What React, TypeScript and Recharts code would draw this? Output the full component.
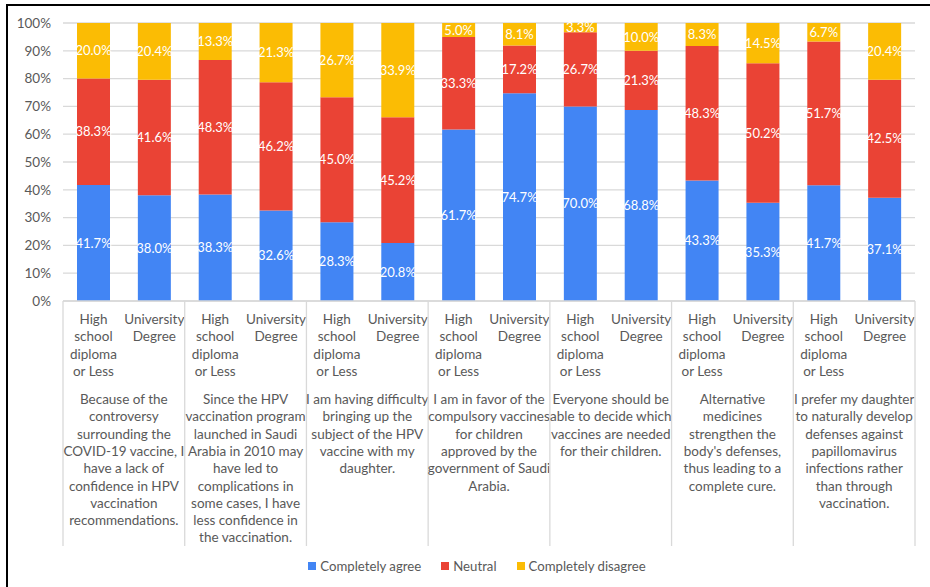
import React from "react";
import { BarChart, Bar, XAxis, YAxis, CartesianGrid, LabelList, Legend } from "recharts";

const statements: string[][] = [
  ["Because of the", "controversy", "surrounding the", "COVID-19 vaccine, I", "have a lack of", "confidence in HPV", "vaccination", "recommendations."],
  ["Since the HPV", "vaccination program", "launched in Saudi", "Arabia in 2010 may", "have led to", "complications in", "some cases, I have", "less confidence in", "the vaccination."],
  ["I am having difficulty", "bringing up the", "subject of the HPV", "vaccine with my", "daughter."],
  ["I am in favor of the", "compulsory vaccines", "for children", "approved by the", "government of Saudi", "Arabia."],
  ["Everyone should be", "able to decide which", "vaccines are needed", "for their children."],
  ["Alternative", "medicines", "strengthen the", "body's defenses,", "thus leading to a", "complete cure."],
  ["I prefer my daughter", "to naturally develop", "defenses against", "papillomavirus", "infections rather", "than through", "vaccination."],
];

const educationLevels: string[][] = [
  ["High", "school", "diploma", "or Less"],
  ["University", "Degree"],
];

const completelyAgree = [41.7, 38.0, 38.3, 32.6, 28.3, 20.8, 61.7, 74.7, 70.0, 68.8, 43.3, 35.3, 41.7, 37.1];
const neutral = [38.3, 41.6, 48.3, 46.2, 45.0, 45.2, 33.3, 17.2, 26.7, 21.3, 48.3, 50.2, 51.7, 42.5];
const completelyDisagree = [20.0, 20.4, 13.3, 21.3, 26.7, 33.9, 5.0, 8.1, 3.3, 10.0, 8.3, 14.5, 6.7, 20.4];

const yTicks = [0, 0.1, 0.2, 0.3, 0.4, 0.5, 0.6, 0.7, 0.8, 0.9, 1];
const yTickLabels = ["0%", "10%", "20%", "30%", "40%", "50%", "60%", "70%", "80%", "90%", "100%"];

const seriesNames = ["Completely agree", "Neutral", "Completely disagree"];
const seriesColors = ["#4285F4", "#EA4335", "#FBBC04"];

const chartData = completelyAgree.map((v, i) => ({
  id: `c${i}`,
  group: Math.floor(i / 2),
  edu: i % 2,
  agree: v,
  neutral: neutral[i],
  disagree: completelyDisagree[i],
}));

const FONT = "Lato, 'Open Sans', sans-serif";
const W = 930;
const H = 587;
const MARGIN = { top: 23, right: 15, bottom: 21, left: 0 };
const Y_AXIS_W = 63;
const X_AXIS_H = 245;
const PLOT_W = W - MARGIN.left - MARGIN.right - Y_AXIS_W;
const TEXT_COLOR = "#595959";
const GRID = "#d9d9d9";

const CategoryTick = (props: any) => {
  const { x, y, payload } = props;
  const i: number = payload.index;
  const row = chartData[i];
  const band = PLOT_W / chartData.length;
  const lh = 17.3;
  const eduLines = educationLevels[row.edu];
  const els: React.ReactNode[] = [];
  els.push(
    <text key="edu" x={x} y={y + 23} textAnchor="middle" fill={TEXT_COLOR} fontSize={13.5} fontFamily={FONT}>
      {eduLines.map((l, k) => (
        <tspan key={k} x={x} dy={k === 0 ? 0 : lh}>{l}</tspan>
      ))}
    </text>
  );
  if (row.edu === 0) {
    const gx = x + band / 2;
    const lines = statements[row.group];
    els.push(
      <line key="sep" x1={x - band / 2} x2={x - band / 2} y1={y} y2={y + X_AXIS_H} stroke={GRID} strokeWidth={1.3} />
    );
    els.push(
      <text key="st" x={gx} y={y + 103} textAnchor="middle" fill={TEXT_COLOR} fontSize={13.5} fontFamily={FONT}>
        {lines.map((l, k) => (
          <tspan key={k} x={gx} dy={k === 0 ? 0 : lh}>{l}</tspan>
        ))}
      </text>
    );
  }
  if (i === chartData.length - 1) {
    els.push(
      <line key="sepEnd" x1={x + band / 2} x2={x + band / 2} y1={y} y2={y + X_AXIS_H} stroke={GRID} strokeWidth={1.3} />
    );
  }
  return <g>{els}</g>;
};

const LegendContent = () => (
  <div
    style={{
      width: W,
      height: 20,
      display: "flex",
      justifyContent: "center",
      alignItems: "center",
      paddingLeft: 24,
      boxSizing: "border-box",
      fontFamily: FONT,
      fontSize: 13.2,
      color: TEXT_COLOR,
    }}
  >
    {seriesNames.map((n, k) => (
      <span key={n} style={{ display: "inline-flex", alignItems: "center", marginRight: k < 2 ? 20 : 0 }}>
        <span style={{ width: 8, height: 8, background: seriesColors[k], display: "inline-block", marginRight: 4 }} />
        {n}
      </span>
    ))}
  </div>
);

export default function App() {
  return (
    <div style={{ position: "absolute", left: 0, top: 0, width: W, height: H, overflow: "hidden", background: "#fff" }}>
      <div
        style={{
          position: "absolute",
          left: 6,
          top: 4,
          width: 1000,
          height: 700,
          borderLeft: "2px solid #000",
          borderTop: "2px solid #000",
        }}
      />
      <div style={{ position: "absolute", left: 0, top: 0 }}>
        <BarChart
          width={W}
          height={H}
          data={chartData}
          margin={MARGIN}
          stackOffset="expand"
          barSize={33}
          style={{ fontFamily: FONT }}
        >
          <CartesianGrid vertical={false} stroke={GRID} strokeWidth={1.3} />
          <XAxis
            dataKey="id"
            interval={0}
            height={X_AXIS_H}
            tickLine={false}
            tickSize={0}
            tickMargin={0}
            axisLine={{ stroke: GRID, strokeWidth: 1.3 }}
            tick={<CategoryTick />}
          />
          <YAxis
            width={Y_AXIS_W}
            domain={[0, 1]}
            ticks={yTicks}
            tickFormatter={(v: number) => yTickLabels[yTicks.indexOf(v)] ?? ""}
            axisLine={false}
            tickLine={false}
            tickSize={0}
            tickMargin={12}
            tick={{ fill: TEXT_COLOR, fontSize: 13.5, fontFamily: FONT }}
          />
          <Legend
            verticalAlign="bottom"
            content={<LegendContent />}
            wrapperStyle={{ top: 556, left: 0, width: W, height: 20, bottom: "auto" }}
          />
          <Bar dataKey="agree" name={seriesNames[0]} stackId="s" fill={seriesColors[0]} isAnimationActive={false}>
            <LabelList dataKey="agree" position="center" fill="#fff" fontSize={13} fontFamily={FONT} formatter={(v: number) => `${v.toFixed(1)}%`} />
          </Bar>
          <Bar dataKey="neutral" name={seriesNames[1]} stackId="s" fill={seriesColors[1]} isAnimationActive={false}>
            <LabelList dataKey="neutral" position="center" fill="#fff" fontSize={13} fontFamily={FONT} formatter={(v: number) => `${v.toFixed(1)}%`} />
          </Bar>
          <Bar dataKey="disagree" name={seriesNames[2]} stackId="s" fill={seriesColors[2]} isAnimationActive={false}>
            <LabelList dataKey="disagree" position="center" fill="#fff" fontSize={13} fontFamily={FONT} formatter={(v: number) => `${v.toFixed(1)}%`} />
          </Bar>
        </BarChart>
      </div>
    </div>
  );
}
